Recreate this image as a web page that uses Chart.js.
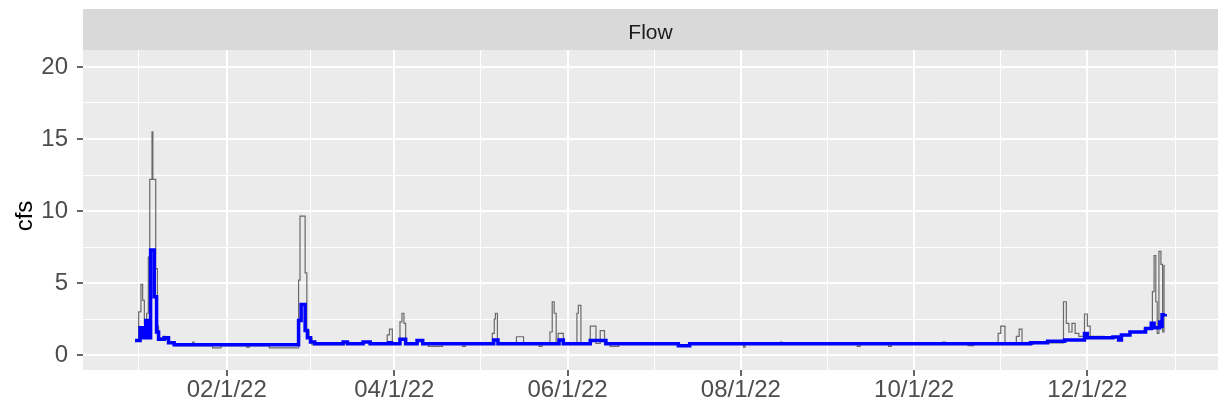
<!DOCTYPE html>
<html>
<head>
<meta charset="utf-8">
<script src="https://cdn.jsdelivr.net/npm/chart.js@4.4.1/dist/chart.umd.min.js"></script>
<style>
  body { margin: 0; background: #ffffff; }
  #caja { width: 1231px; height: 412px; position: relative; }
</style>
</head>
<body>
<div id="caja"><canvas id="grafico"></canvas></div>
<script>
// dias desde el 1 de enero de 2022 y caudal (cfs)
const diasCrudo = [-1.3, 0.0, 0.8, 1.4, 2.0, 2.8, 3.4, 3.9, 4.7, 5.0, 6.0, 6.6, 7.0, 8.6, 9.5, 10.4, 12.8,
  19.0, 19.5, 26, 29, 38, 39, 46, 56.3, 56.8, 58.6, 59.2, 60, 61, 72, 73.5, 79, 81.5,
  87.5, 88.3, 89.3, 92, 92.7, 93.4, 94, 98.5, 100, 102, 107, 114, 115,
  124.5, 125.2, 125.6, 126.3, 133, 135.5, 141, 142, 144.8, 145.6, 146.3, 147, 147.7, 149.5,
  154.3, 154.8, 155.7, 159, 161, 162.5, 164, 166, 169, 190, 194,
  213, 213.5, 226, 226.5, 253, 254, 264, 265, 283, 284, 292, 294,
  302.6, 303.5, 305, 309, 310, 311, 315, 325.6, 326.6, 327.5, 328.6, 329.7, 331, 333, 334, 335,
  340, 343, 345, 346, 349, 354, 356.9, 357.5, 358.1, 358.6, 359.2, 359.9, 360.5, 361.0, 361.4];
const flujoCrudo = [1.0, 3.0, 4.9, 3.8, 2.2, 2.9, 6.8, 12.2, 15.5, 12.2, 6.0, 2.0, 1.2, 1.3, 1.1, 0.9, 0.65,
  0.9, 0.65, 0.5, 0.65, 0.55, 0.65, 0.5, 5.2, 9.65, 5.7, 1.7, 1.2, 0.72, 0.9, 0.75, 0.9, 0.75,
  1.4, 1.8, 0.8, 2.3, 2.9, 2.2, 0.8, 1.0, 0.75, 0.6, 0.75, 0.6, 0.75,
  1.5, 2.5, 2.9, 0.8, 1.27, 0.75, 0.6, 0.75, 1.6, 3.7, 2.9, 0.8, 1.5, 0.75,
  2.9, 3.45, 0.8, 2.0, 0.8, 1.7, 0.75, 0.6, 0.75, 0.6, 0.75,
  0.55, 0.75, 0.9, 0.75, 0.6, 0.75, 0.6, 0.75, 0.9, 0.75, 0.65, 0.75,
  1.5, 2.0, 0.75, 1.3, 1.8, 0.75, 0.85, 3.7, 2.2, 1.6, 2.2, 1.5, 1.3, 2.85, 2.0, 1.3,
  1.2, 1.25, 1.05, 1.35, 1.6, 1.8, 4.4, 6.9, 3.7, 1.5, 7.2, 6.3, 1.6, 6.2, 6.2];

const diasSuave = [-1.3, 0.5, 1.5, 2.5, 3.0, 4.2, 5.5, 6.3, 7.0, 9.0, 10.5, 12.5,
  56.3, 57.2, 58.6, 59.4, 60.5, 62, 72, 73.5, 79, 81.5, 88, 89, 92, 94, 98, 100,
  125, 126.5, 148, 149.5, 159, 164.5, 190, 194,
  314, 320, 326, 333, 334, 343, 345, 346, 349, 354.5, 356.5, 357.5, 359.5, 360, 360.3, 361.4];
const flujoSuave = [1.0, 1.9, 1.2, 2.4, 1.2, 7.3, 4.05, 1.6, 1.1, 1.2, 0.85, 0.72,
  2.4, 3.5, 1.7, 1.2, 0.9, 0.78, 0.9, 0.78, 0.9, 0.78, 0.85, 0.78, 1.1, 0.78, 1.0, 0.78,
  1.05, 0.78, 1.05, 0.78, 1.0, 0.78, 0.65, 0.78,
  0.86, 0.95, 1.04, 1.5, 1.2, 1.25, 1.05, 1.39, 1.6, 1.85, 2.2, 1.9, 2.3, 2.0, 2.8, 2.85];

const marcasX = [0, 31, 60.5, 90, 120.5, 151, 181.5, 212, 242.5, 273, 303.5, 334, 365];
const etiquetasX = { 31: "02/1/22", 90: "04/1/22", 151: "06/1/22", 212: "08/1/22", 273: "10/1/22", 334: "12/1/22" };
const marcasY = [0, 2.5, 5, 7.5, 10, 12.5, 15, 17.5, 20];

const puntos = (xs, ys) => xs.map((x, i) => ({ x: x, y: ys[i] }));
const fuente = "'Liberation Sans', Arial, sans-serif";

const fondoPanel = {
    id: "fondoPanel",
    beforeDraw(chart) {
        const { ctx, chartArea: a } = chart;
        ctx.save();
        ctx.fillStyle = "#EBEBEB";
        ctx.fillRect(a.left, a.top, a.right - a.left, a.bottom - a.top);
        ctx.fillStyle = "#D9D9D9";
        ctx.fillRect(a.left, 9, a.right - a.left, a.top - 9);
        ctx.fillStyle = "#1A1A1A";
        ctx.font = "21px " + fuente;
        ctx.textAlign = "center";
        ctx.textBaseline = "middle";
        ctx.fillText("Flow", (a.left + a.right) / 2, 33);
        // titulo del eje y
        ctx.fillStyle = "#000000";
        ctx.font = "24px " + fuente;
        ctx.translate(25, 216);
        ctx.rotate(-Math.PI / 2);
        ctx.fillText("cfs", 0, 0);
        ctx.restore();
    },
};

const ctx = document.querySelector("#grafico").getContext("2d");
new Chart(ctx, {
    type: "line",
    data: {
        datasets: [
            {
                label: "suave",
                data: puntos(diasSuave, flujoSuave),
                borderColor: "#0000FF",
                borderWidth: 3.5,
                stepped: true,
                pointRadius: 0,
                order: 0,
            },
            {
                label: "crudo",
                data: puntos(diasCrudo, flujoCrudo),
                borderColor: "#6A6A6A",
                borderWidth: 1.2,
                stepped: true,
                pointRadius: 0,
                order: 1,
            },
        ],
    },
    options: {
        responsive: true,
        maintainAspectRatio: false,
        animation: false,
        layout: { padding: { top: 50, right: 13, left: 0, bottom: 0 } },
        plugins: { legend: { display: false }, tooltip: { enabled: false } },
        scales: {
            x: {
                type: "linear",
                min: -19.6,
                max: 380,
                afterBuildTicks: (eje) => { eje.ticks = marcasX.map((v) => ({ value: v })); },
                afterFit: (eje) => { eje.height = 42; },
                border: { display: false },
                grid: {
                    color: "#FFFFFF",
                    lineWidth: (c) => (etiquetasX[c.tick.value] ? 2 : 1),
                    tickLength: 6,
                    tickWidth: 1.5,
                    tickColor: (c) => (etiquetasX[c.tick.value] ? "#333333" : "rgba(0,0,0,0)"),
                },
                ticks: {
                    autoSkip: false,
                    maxRotation: 0,
                    padding: 0,
                    color: "#4D4D4D",
                    font: { family: fuente, size: 24 },
                    callback: (v) => etiquetasX[v] || "",
                },
            },
            y: {
                type: "linear",
                min: -1.04,
                max: 21.18,
                afterBuildTicks: (eje) => { eje.ticks = marcasY.map((v) => ({ value: v })); },
                afterFit: (eje) => { eje.width = 83; },
                border: { display: false },
                grid: {
                    color: "#FFFFFF",
                    lineWidth: (c) => (c.tick.value % 5 === 0 ? 2 : 1),
                    tickLength: 6,
                    tickWidth: 1.5,
                    tickColor: (c) => (c.tick.value % 5 === 0 ? "#333333" : "rgba(0,0,0,0)"),
                },
                ticks: {
                    autoSkip: false,
                    padding: 9,
                    color: "#4D4D4D",
                    font: { family: fuente, size: 24 },
                    callback: (v) => (v % 5 === 0 ? String(v) : ""),
                },
            },
        },
    },
    plugins: [fondoPanel],
});
</script>
</body>
</html>
